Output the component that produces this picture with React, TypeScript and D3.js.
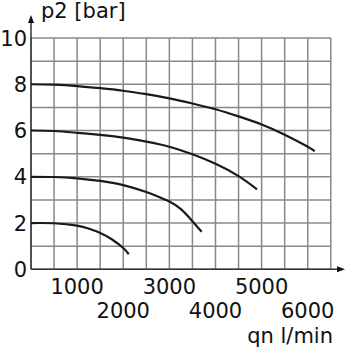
import React from 'react';
import * as d3 from 'd3';

// flow (l/min) vs outlet pressure p2 (bar), one curve per supply setting
const flow8 = [0, 500, 1000, 1500, 2000, 2500, 3000, 3500, 4000, 4500, 5000, 5500, 6000, 6150];
const p8 = [8.0, 7.98, 7.92, 7.83, 7.72, 7.57, 7.39, 7.17, 6.92, 6.61, 6.26, 5.82, 5.3, 5.1];
const flow6 = [0, 500, 1000, 1500, 2000, 2500, 3000, 3500, 4000, 4500, 4900];
const p6 = [6.0, 5.98, 5.9, 5.81, 5.69, 5.52, 5.3, 4.97, 4.56, 4.03, 3.46];
const flow4 = [0, 500, 1000, 1500, 2000, 2500, 2750, 3000, 3250, 3500, 3700];
const p4 = [4.0, 3.99, 3.93, 3.82, 3.64, 3.34, 3.15, 2.93, 2.6, 2.08, 1.62];
const flow2 = [0, 500, 1000, 1250, 1500, 1750, 2000, 2120];
const p2 = [2.0, 1.99, 1.89, 1.76, 1.57, 1.3, 0.92, 0.65];

const xTicks = [1000, 2000, 3000, 4000, 5000, 6000];
const yTicks = [0, 2, 4, 6, 8, 10];

const App = () => {
  const width = 350;
  const height = 350;
  const x = d3.scaleLinear().domain([0, 6500]).range([31, 330.8]);
  const y = d3.scaleLinear().domain([0, 10]).range([269.3, 38]);

  const line = d3.line<[number, number]>()
    .x(d => x(d[0]))
    .y(d => y(d[1]))
    .curve(d3.curveNatural);

  const series = [
    d3.zip(flow8, p8),
    d3.zip(flow6, p6),
    d3.zip(flow4, p4),
    d3.zip(flow2, p2),
  ] as [number, number][][];

  const vLines = d3.range(0, 6501, 500);
  const hLines = d3.range(0, 11, 1);
  const font = 'DejaVu Sans, Verdana, sans-serif';

  return (
    <svg width={width} height={height} style={{ position: 'absolute', left: 0, top: 0, background: 'white' }}>
      <g stroke="#888" strokeWidth={1.5}>
        {vLines.map(v => (
          <line key={'v' + v} x1={x(v)} x2={x(v)} y1={y(10)} y2={y(0)} />
        ))}
        {hLines.map(v => (
          <line key={'h' + v} x1={x(0)} x2={x(6500)} y1={y(v)} y2={y(v)} />
        ))}
      </g>
      {/* axes with arrows */}
      <line x1={x(0)} x2={x(0)} y1={y(0)} y2={22} stroke="#333" strokeWidth={1.5} />
      <path d={`M${x(0)},15 L${x(0) - 3},23 L${x(0) + 3},23 Z`} fill="#111" />
      <line x1={x(0)} x2={338} y1={y(0)} y2={y(0)} stroke="#333" strokeWidth={1.5} />
      <path d={`M345,${y(0)} L337,${y(0) - 3} L337,${y(0) + 3} Z`} fill="#111" />

      {series.map((s, i) => (
        <path key={i} d={line(s) || ''} fill="none" stroke="#1a1a1a" strokeWidth={2.2} />
      ))}

      <g fontFamily={font} fontSize={21} fill="#111">
        {yTicks.map(t => (
          <text key={t} x={27} y={y(t) + 7.5} textAnchor="end">{t}</text>
        ))}
        {xTicks.map((t, i) => (
          <text key={t} x={x(t)} y={i % 2 === 0 ? 294 : 318.3} textAnchor="middle">{t}</text>
        ))}
        <text x={41} y={18.3}>p2 [bar]</text>
        <text x={333} y={343} textAnchor="end">qn l/min</text>
      </g>
    </svg>
  );
};

export default App;
